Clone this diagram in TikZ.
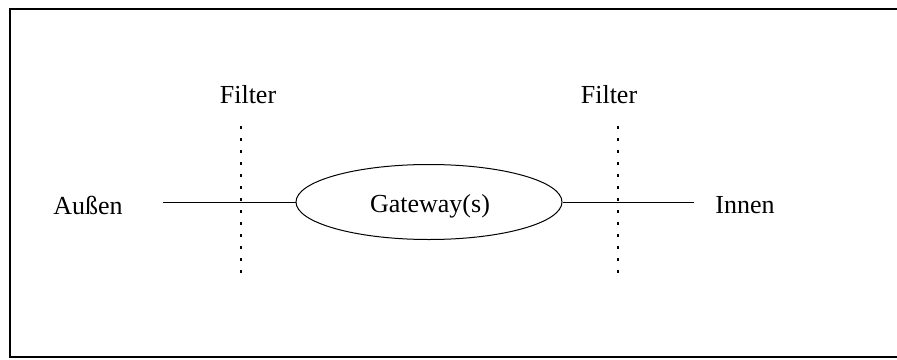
\documentclass[tikz,border=0pt]{standalone}
\usepackage{fontspec}
\setmainfont{Liberation Serif}
\usetikzlibrary{shapes.geometric}
\begin{document}
\begin{tikzpicture}[x=1pt,y=-1pt,
  label/.style={font=\fontsize{26}{30}\selectfont, inner sep=0pt},
  wire/.style={line width=1pt},
  barrier/.style={line width=1.8pt, dash pattern=on 3pt off 9pt},
  gw/.style={ellipse, draw, line width=1pt, minimum width=266pt, minimum height=75pt, inner sep=0pt}]
  \useasboundingbox (0,0) rectangle (897,359);
  % open frame (right side runs off the page)
  \draw[line width=2.2pt] (897,9) -- (10,9) -- (10,357) -- (897,357);

  % labels
  \node[label] (aussen) at (88,205) {Außen};
  \node[label] (innen) at (745,205) {Innen};
  \node[label] (f1) at (248,95) {Filter};
  \node[label] (f2) at (609,95) {Filter};

  % gateway
  \node[gw] (gw) at (429,202) {};
  \node[label] (gwtext) at (430,206) {Gateway(s)};

  % wire endpoints
  \coordinate (wl) at (163,202);
  \coordinate (wr) at (694,202);
  \draw[wire] (wl) -- (gw.west);
  \draw[wire] (gw.east) -- (wr);

  % filter barriers
  \coordinate (b1t) at (241,126);
  \coordinate (b1b) at (241,280);
  \coordinate (b2t) at (618,126);
  \coordinate (b2b) at (618,280);
  \draw[barrier] (b1t) -- (b1b);
  \draw[barrier] (b2t) -- (b2b);
\end{tikzpicture}
\end{document}
